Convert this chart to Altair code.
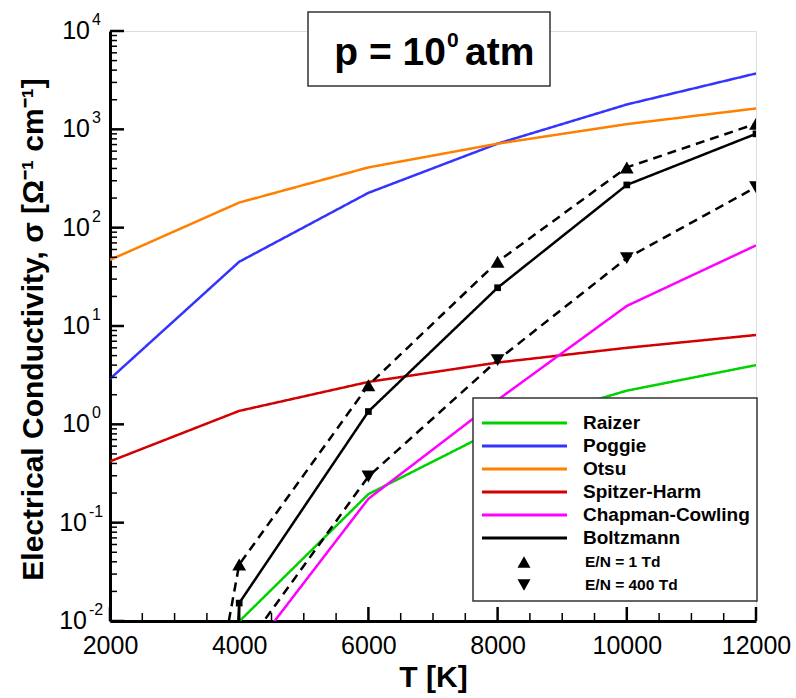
import altair as alt
import pandas as pd

# ---------------- data ----------------
series_names = ["Raizer", "Poggie", "Otsu", "Spitzer-Harm", "Chapman-Cowling",
                "Boltzmann", "E/N = 1 Td", "E/N = 400 Td"]
series_colors = ["#00D200", "#3434FF", "#FF8000", "#D20000", "#FF00FF",
                 "#000000", "#000000", "#000000"]

T_std = [2000, 4000, 6000, 8000, 10000, 12000]
raizer_T = [4000, 6000, 8000, 10000, 12000]
raizer = [0.0099, 0.195, 0.9, 2.2, 4.0]
poggie = [2.9, 45, 226, 715, 1790, 3700]
otsu = [47, 180, 410, 715, 1130, 1630]
spitzer = [0.42, 1.37, 2.7, 4.25, 6.0, 8.1]
chapman_T = [4000, 6000, 8000, 10000, 12000]
chapman = [0.0034, 0.175, 1.77, 16, 66]
boltz_T = [3000, 4000, 6000, 8000, 10000, 12000]
boltz = [1e-15, 0.0152, 1.35, 24.5, 272, 900]
en1_T = [3000, 4000, 6000, 8000, 10000, 12000]
en1 = [1e-5, 0.0375, 2.5, 45, 410, 1140]
en400_T = [4000, 6000, 8000, 10000, 12000]
en400 = [0.0045, 0.295, 4.5, 49, 258]

x_major = [2000, 4000, 6000, 8000, 10000, 12000]
x_minor = [2500, 3000, 3500, 4500, 5000, 5500, 6500, 7000, 7500,
           8500, 9000, 9500, 10500, 11000, 11500]
y_exps = [-2, -1, 0, 1, 2, 3, 4]
y_exp_text = ["-2", "-1", "0", "1", "2", "3", "4"]

# ---------------- tables ----------------
rows = []
for name, Ts, vs in [("Raizer", raizer_T, raizer), ("Poggie", T_std, poggie),
                     ("Otsu", T_std, otsu), ("Spitzer-Harm", T_std, spitzer),
                     ("Chapman-Cowling", chapman_T, chapman),
                     ("Boltzmann", boltz_T, boltz), ("E/N = 1 Td", en1_T, en1),
                     ("E/N = 400 Td", en400_T, en400)]:
    for t, v in zip(Ts, vs):
        rows.append({"T": t, "sigma": v, "series": name})
df = pd.DataFrame(rows)

W, H = 646, 590
FONT = "Liberation Sans"
X_TITLE = "T [K]"
Y_TITLE = "Electrical Conductivity, σ [Ω⁻¹ cm⁻¹]"

xscale = alt.Scale(domain=[2000, 12000], nice=False, zero=False)
yscale = alt.Scale(type="log", domain=[0.01, 10000], nice=False)
y_major_vals = [10.0 ** e for e in y_exps]
y_minor_vals = [m * 10.0 ** e for e in y_exps[:-1] for m in range(2, 10)]

x_axis = alt.Axis(values=x_major, format="d", title=X_TITLE, grid=False, ticks=False,
                  tickSize=0, labelFontSize=25, labelFont=FONT,
                  labelColor="black", labelPadding=12, domainColor="black",
                  domainWidth=3, titleFont=FONT, titleFontSize=30,
                  titleFontWeight="bold", titleColor="black",
                  titleY=65, titleBaseline="alphabetic", labelFlush=False)
y_axis = alt.Axis(values=y_major_vals, labels=False, ticks=False,
                  tickSize=0, grid=False, domainColor="black", domainWidth=3,
                  title=Y_TITLE,
                  titleFont=FONT, titleFontSize=30, titleFontWeight="bold",
                  titleColor="black", titleX=-77, titleY=H / 2 + 3,
                  titleAngle=270, titleAlign="center", titleBaseline="middle")

def X(field):
    return alt.X(field, scale=xscale, axis=x_axis, title=X_TITLE)

def Y(field):
    return alt.Y(field, scale=yscale, axis=y_axis, title=Y_TITLE)

base = alt.Chart(df)

lines = base.mark_line(clip=True, strokeWidth=2.5).encode(
    x=X("T:Q"), y=Y("sigma:Q"),
    color=alt.Color("series:N", scale=alt.Scale(domain=series_names, range=series_colors),
                    legend=None),
    strokeDash=alt.StrokeDash("series:N",
                              scale=alt.Scale(domain=series_names,
                                              range=[[1, 0]] * 6 + [[9, 6]] * 2),
                              legend=None),
)

def marker(name, shape, size):
    return base.transform_filter(alt.datum.series == name).mark_point(
        shape=shape, filled=True, size=size, color="black", opacity=1, clip=True
    ).encode(x=X("T:Q"), y=Y("sigma:Q"))

sq = marker("Boltzmann", "square", 45)
tu = marker("E/N = 1 Td", "triangle-up", 190)
td = marker("E/N = 400 Td", "triangle-down", 190)

# inward ticks
xt_major = alt.Chart(pd.DataFrame({"T": x_major})).mark_rule(color="black", strokeWidth=2.5).encode(
    x=X("T:Q"), y=alt.value(H), y2=alt.value(H - 14))
xt_minor = alt.Chart(pd.DataFrame({"T": x_minor})).mark_rule(color="black", strokeWidth=1.5).encode(
    x=X("T:Q"), y=alt.value(H), y2=alt.value(H - 8))
yt_major = alt.Chart(pd.DataFrame({"sigma": y_major_vals})).mark_rule(color="black", strokeWidth=2.5).encode(
    y=Y("sigma:Q"), x=alt.value(0), x2=alt.value(14))
yt_minor = alt.Chart(pd.DataFrame({"sigma": y_minor_vals})).mark_rule(color="black", strokeWidth=1.5).encode(
    y=Y("sigma:Q"), x=alt.value(0), x2=alt.value(7))

# y tick labels 10^k
ylab = pd.DataFrame({"sigma": y_major_vals, "e": y_exp_text, "neg": [e < 0 for e in y_exps]})
ylab_chart = alt.Chart(ylab)
ten_pos = ylab_chart.transform_filter("!datum.neg").mark_text(
    text="10", align="right", baseline="middle", font=FONT, fontSize=25, color="black").encode(
    y=Y("sigma:Q"), x=alt.value(-20))
ten_neg = ylab_chart.transform_filter("datum.neg").mark_text(
    text="10", align="right", baseline="middle", font=FONT, fontSize=25, color="black").encode(
    y=Y("sigma:Q"), x=alt.value(-23))
exp_pos = ylab_chart.transform_filter("!datum.neg").mark_text(
    align="left", baseline="middle", font=FONT, fontSize=16, color="black", dy=-11).encode(
    y=Y("sigma:Q"), x=alt.value(-18), text="e:N")
exp_neg = ylab_chart.transform_filter("datum.neg").mark_text(
    align="left", baseline="middle", font=FONT, fontSize=16, color="black", dy=-11).encode(
    y=Y("sigma:Q"), x=alt.value(-21), text="e:N")

one = pd.DataFrame({"a": [0]})

# title box
tbox = alt.Chart(one).mark_rect(fill="white", stroke="#333333", strokeWidth=1.5).encode(
    x=alt.value(198), x2=alt.value(440), y=alt.value(-19), y2=alt.value(55))
t1 = alt.Chart(one).mark_text(text="p = 10", align="right", baseline="alphabetic", font=FONT,
                              fontSize=39, fontWeight="bold", color="black").encode(
    x=alt.value(336), y=alt.value(34))
t2 = alt.Chart(one).mark_text(text="0", align="left", baseline="alphabetic", font=FONT,
                              fontSize=21, fontWeight="bold", color="black").encode(
    x=alt.value(337), y=alt.value(16))
t3 = alt.Chart(one).mark_text(text="atm", align="left", baseline="alphabetic", font=FONT,
                              fontSize=39, fontWeight="bold", color="black").encode(
    x=alt.value(355), y=alt.value(34))

# legend
legend_layers = [alt.Chart(one).mark_rect(fill="white", stroke="#333333", strokeWidth=1.5).encode(
    x=alt.value(363), x2=alt.value(647), y=alt.value(367), y2=alt.value(570))]
for i, (name, col) in enumerate(zip(series_names[:6], series_colors[:6])):
    yy = 392 + 23 * i
    legend_layers.append(alt.Chart(one).mark_rule(color=col, strokeWidth=3).encode(
        x=alt.value(372), x2=alt.value(457), y=alt.value(yy)))
    legend_layers.append(alt.Chart(one).mark_text(
        text=name, align="left", baseline="middle", font=FONT, fontSize=19,
        fontWeight="bold", color="black").encode(x=alt.value(473), y=alt.value(yy)))
for j, (name, shp) in enumerate([("E/N = 1 Td", "triangle-up"), ("E/N = 400 Td", "triangle-down")]):
    yy = 531 + 23 * j
    legend_layers.append(alt.Chart(one).mark_point(
        shape=shp, filled=True, size=170, color="black", opacity=1).encode(
        x=alt.value(414), y=alt.value(yy)))
    legend_layers.append(alt.Chart(one).mark_text(
        text=name, align="left", baseline="middle", font=FONT, fontSize=15.5,
        fontWeight="bold", color="black").encode(x=alt.value(475), y=alt.value(yy)))

chart = alt.layer(
    lines, sq, tu, td, xt_major, xt_minor, yt_major, yt_minor,
    ten_pos, ten_neg, exp_pos, exp_neg, tbox, t1, t2, t3, *legend_layers
).properties(
    width=W, height=H,
    autosize=alt.AutoSizeParams(type="none"),
    padding={"left": 110, "top": 31, "right": 40, "bottom": 77},
).configure_view(stroke=None).configure(background="white")

chart.save("out.html", embed_options={"renderer": "svg", "actions": False})
